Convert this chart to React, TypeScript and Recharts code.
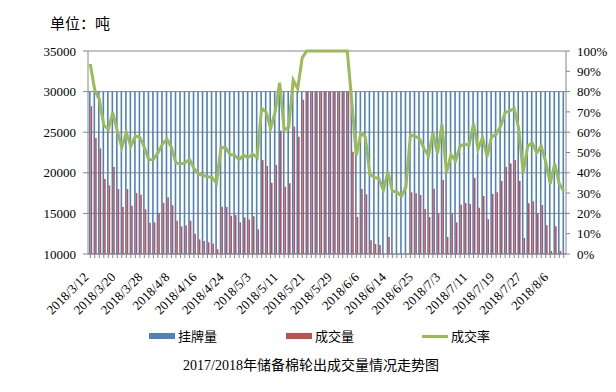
import {
  ComposedChart,
  Bar,
  Line,
  XAxis,
  YAxis,
  CartesianGrid,
} from "recharts";

const DATES = [
  "2018/3/12", "2018/3/13", "2018/3/14", "2018/3/15", "2018/3/16", "2018/3/19",
  "2018/3/20", "2018/3/21", "2018/3/22", "2018/3/23", "2018/3/26", "2018/3/27",
  "2018/3/28", "2018/3/29", "2018/3/30", "2018/4/2", "2018/4/3", "2018/4/4",
  "2018/4/8", "2018/4/9", "2018/4/10", "2018/4/11", "2018/4/12", "2018/4/13",
  "2018/4/16", "2018/4/17", "2018/4/18", "2018/4/19", "2018/4/20", "2018/4/23",
  "2018/4/24", "2018/4/25", "2018/4/26", "2018/4/27", "2018/4/28", "2018/5/2",
  "2018/5/3", "2018/5/4", "2018/5/7", "2018/5/8", "2018/5/9", "2018/5/10",
  "2018/5/11", "2018/5/14", "2018/5/15", "2018/5/16", "2018/5/17", "2018/5/18",
  "2018/5/21", "2018/5/22", "2018/5/23", "2018/5/24", "2018/5/25", "2018/5/28",
  "2018/5/29", "2018/5/30", "2018/5/31", "2018/6/1", "2018/6/4", "2018/6/5",
  "2018/6/6", "2018/6/7", "2018/6/8", "2018/6/11", "2018/6/12", "2018/6/13",
  "2018/6/14", "2018/6/15", "2018/6/19", "2018/6/20", "2018/6/21", "2018/6/22",
  "2018/6/25", "2018/6/26", "2018/6/27", "2018/6/28", "2018/6/29", "2018/7/2",
  "2018/7/3", "2018/7/4", "2018/7/5", "2018/7/6", "2018/7/9", "2018/7/10",
  "2018/7/11", "2018/7/12", "2018/7/13", "2018/7/16", "2018/7/17", "2018/7/18",
  "2018/7/19", "2018/7/20", "2018/7/23", "2018/7/24", "2018/7/25", "2018/7/26",
  "2018/7/27", "2018/7/30", "2018/7/31", "2018/8/1", "2018/8/2", "2018/8/3",
  "2018/8/6", "2018/8/7", "2018/8/8", "2018/8/9",
];

// 挂牌量 (tons)
const LISTED = [
  30000, 30000, 30000, 30000, 30000, 30000, 30000, 30000, 30000, 30000, 30000, 30000,
  30000, 30000, 30000, 30000, 30000, 30000, 30000, 30000, 30000, 30000, 30000, 30000,
  30000, 30000, 30000, 30000, 30000, 30000, 30000, 30000, 30000, 30000, 30000, 30000,
  30000, 30000, 30000, 30000, 30000, 30000, 30000, 30000, 30000, 30000, 30000, 30000,
  30000, 30000, 30000, 30000, 30000, 30000, 30000, 30000, 30000, 30000, 30000, 30000,
  30000, 30000, 30000, 30000, 30000, 30000, 30000, 30000, 30000, 30000, 30000, 30000,
  30000, 30000, 30000, 30000, 30000, 30000, 30000, 30000, 30000, 30000, 30000, 30000,
  30000, 30000, 30000, 30000, 30000, 30000, 30000, 30000, 30000, 30000, 30000, 30000,
  30000, 30000, 30000, 30000, 30000, 30000, 30000, 30000, 30000, 30000,
];

// 成交量 (tons)
const DEALT = [
  28200, 24300, 23000, 19250, 18450, 20700,
  18000, 15780, 18000, 15950, 17500, 17300,
  15500, 13850, 13900, 15000, 16300, 17000,
  16000, 14100, 13400, 13500, 14100, 12500,
  11800, 11600, 11450, 11300, 10580, 15820,
  15800, 14700, 14800, 13900, 14500, 14250,
  14650, 13050, 21560, 20860, 18770, 20950,
  25200, 18270, 18700, 25680, 24450, 29000,
  30000, 30000, 30000, 30000, 30000, 30000,
  30000, 30000, 30000, 30000, 22600, 14560,
  18000, 17350, 11700, 11230, 11100, 9400,
  12100, 9300, 9200, 8550, 9900, 17600,
  17480, 17280, 15530, 14550, 18030, 14960,
  19100, 12100, 15000, 13900, 16050, 16290,
  16170, 19380, 15700, 17150, 14280, 17400,
  17600, 19000, 20740, 21150, 21560, 19000,
  11970, 16250, 16500, 15000, 16040, 13540,
  10370, 13420, 10370, 9330,
];

// 成交率 (%)
const RATE = [
  93.6, 80.8, 76.2, 63.5, 61.4, 69.6,
  60.5, 52.5, 59.9, 53.1, 58.2, 57.4,
  52.5, 46.4, 46.6, 49.8, 54.1, 56.6,
  52.5, 44.9, 44.3, 44.9, 46.6, 42.1,
  39.3, 38.8, 38.0, 37.7, 35.0, 52.5,
  52.4, 49.0, 48.7, 46.5, 48.7, 47.5,
  49.2, 47.5, 71.7, 70.0, 61.9, 70.0,
  84.4, 61.2, 62.2, 85.7, 81.4, 96.6,
  100, 100, 100, 100, 100, 100,
  100, 100, 100, 100, 75.0, 48.5,
  59.7, 57.7, 39.2, 37.7, 37.2, 31.4,
  40.5, 30.9, 30.6, 28.5, 33.0, 58.6,
  58.1, 56.9, 52.0, 48.4, 59.7, 49.5,
  63.8, 40.1, 49.0, 45.9, 53.1, 54.1,
  53.6, 64.3, 51.6, 57.4, 47.9, 57.7,
  58.9, 63.0, 69.6, 70.5, 71.7, 62.0,
  40.0, 53.1, 54.8, 49.8, 53.1, 45.4,
  34.7, 44.6, 34.7, 31.1,
];

const LEFT_TICKS = [10000, 15000, 20000, 25000, 30000, 35000];
const RIGHT_TICKS = [0, 10, 20, 30, 40, 50, 60, 70, 80, 90, 100];

const BLUE = "#4F81BD";
const RED = "#C0504D";
const GREEN = "#9BBB59";
const GRID = "#868686";
const SERIF = '"Liberation Serif", "Times New Roman", serif';
const CJK = '"Liberation Serif", "Noto Sans CJK SC", sans-serif';

const Y_MIN = 10000;

// values under the axis floor are not drawn as bars
const rows = DATES.map((date, i) => ({
  date,
  listed: LISTED[i],
  dealt: DEALT[i] >= Y_MIN ? DEALT[i] : null,
  rate: RATE[i],
}));

function DateTick(props: any) {
  const { x, y, payload, index } = props;
  if (index % 6 !== 0) return null;
  return (
    <text
      transform={`translate(${x - 1},${y + 18}) rotate(-45)`}
      textAnchor="end"
      fontSize={13}
      fontFamily={SERIF}
      fill="#000"
    >
      {payload.value}
    </text>
  );
}

const legendItems = [
  { label: "挂牌量", color: BLUE, left: 149, kind: "box" },
  { label: "成交量", color: RED, left: 286, kind: "box" },
  { label: "成交率", color: GREEN, left: 422, kind: "line" },
];

export default function App() {
  return (
    <div
      style={{
        position: "fixed",
        left: 0,
        top: 0,
        width: 616,
        height: 392,
        background: "#fff",
        overflow: "hidden",
      }}
    >
      <div
        style={{
          position: "absolute",
          left: 50,
          top: 13,
          fontSize: 15,
          lineHeight: "22px",
          fontFamily: CJK,
          color: "#000",
        }}
      >
        单位：吨
      </div>
      <ComposedChart
        width={616}
        height={392}
        data={rows}
        margin={{ top: 51, right: 4, bottom: 0, left: 8 }}
        barGap={0}
        barSize={1.6}
      >
        <CartesianGrid
          yAxisId="left"
          vertical={false}
          stroke={GRID}
          strokeWidth={1}
        />
        <XAxis
          dataKey="date"
          interval={0}
          height={138}
          tickSize={4}
          tickMargin={2}
          axisLine={{ stroke: GRID }}
          tickLine={{ stroke: GRID }}
          tick={<DateTick />}
        />
        <YAxis
          yAxisId="left"
          width={80}
          domain={[10000, 35000]}
          ticks={LEFT_TICKS}
          interval={0}
          tickSize={5}
          tickMargin={7}
          axisLine={{ stroke: GRID }}
          tickLine={{ stroke: GRID }}
          tick={{ fontSize: 13, fontFamily: SERIF, fill: "#000" }}
        />
        <YAxis
          yAxisId="right"
          orientation="right"
          width={46}
          domain={[0, 100]}
          ticks={RIGHT_TICKS}
          interval={0}
          tickFormatter={(v: number) => `${v}%`}
          tickSize={4}
          tickMargin={7}
          axisLine={{ stroke: GRID }}
          tickLine={{ stroke: GRID }}
          tick={{ fontSize: 13, fontFamily: SERIF, fill: "#000", textAnchor: "start" }}
        />
        <Bar
          yAxisId="left"
          dataKey="listed"
          name="挂牌量"
          fill={BLUE}
          isAnimationActive={false}
        />
        <Bar
          yAxisId="left"
          dataKey="dealt"
          name="成交量"
          fill={RED}
          isAnimationActive={false}
        />
        <Line
          yAxisId="right"
          dataKey="rate"
          name="成交率"
          type="linear"
          stroke={GREEN}
          strokeWidth={3}
          dot={false}
          activeDot={false}
          isAnimationActive={false}
        />
      </ComposedChart>
      {legendItems.map((item) => (
        <div key={item.label}>
          <div
            style={{
              position: "absolute",
              left: item.left,
              top: item.kind === "box" ? 333 : 335,
              width: 26,
              height: item.kind === "box" ? 6 : 2.5,
              background: item.color,
            }}
          />
          <div
            style={{
              position: "absolute",
              left: item.left + 29,
              top: 327,
              fontSize: 13,
              lineHeight: "20px",
              fontFamily: CJK,
              color: "#000",
              whiteSpace: "nowrap",
            }}
          >
            {item.label}
          </div>
        </div>
      ))}
      <div
        style={{
          position: "absolute",
          left: 0,
          width: 622,
          top: 356,
          textAlign: "center",
          fontSize: 14,
          lineHeight: "20px",
          fontFamily: CJK,
          color: "#000",
          whiteSpace: "nowrap",
        }}
      >
        2017/2018年储备棉轮出成交量情况走势图
      </div>
    </div>
  );
}
